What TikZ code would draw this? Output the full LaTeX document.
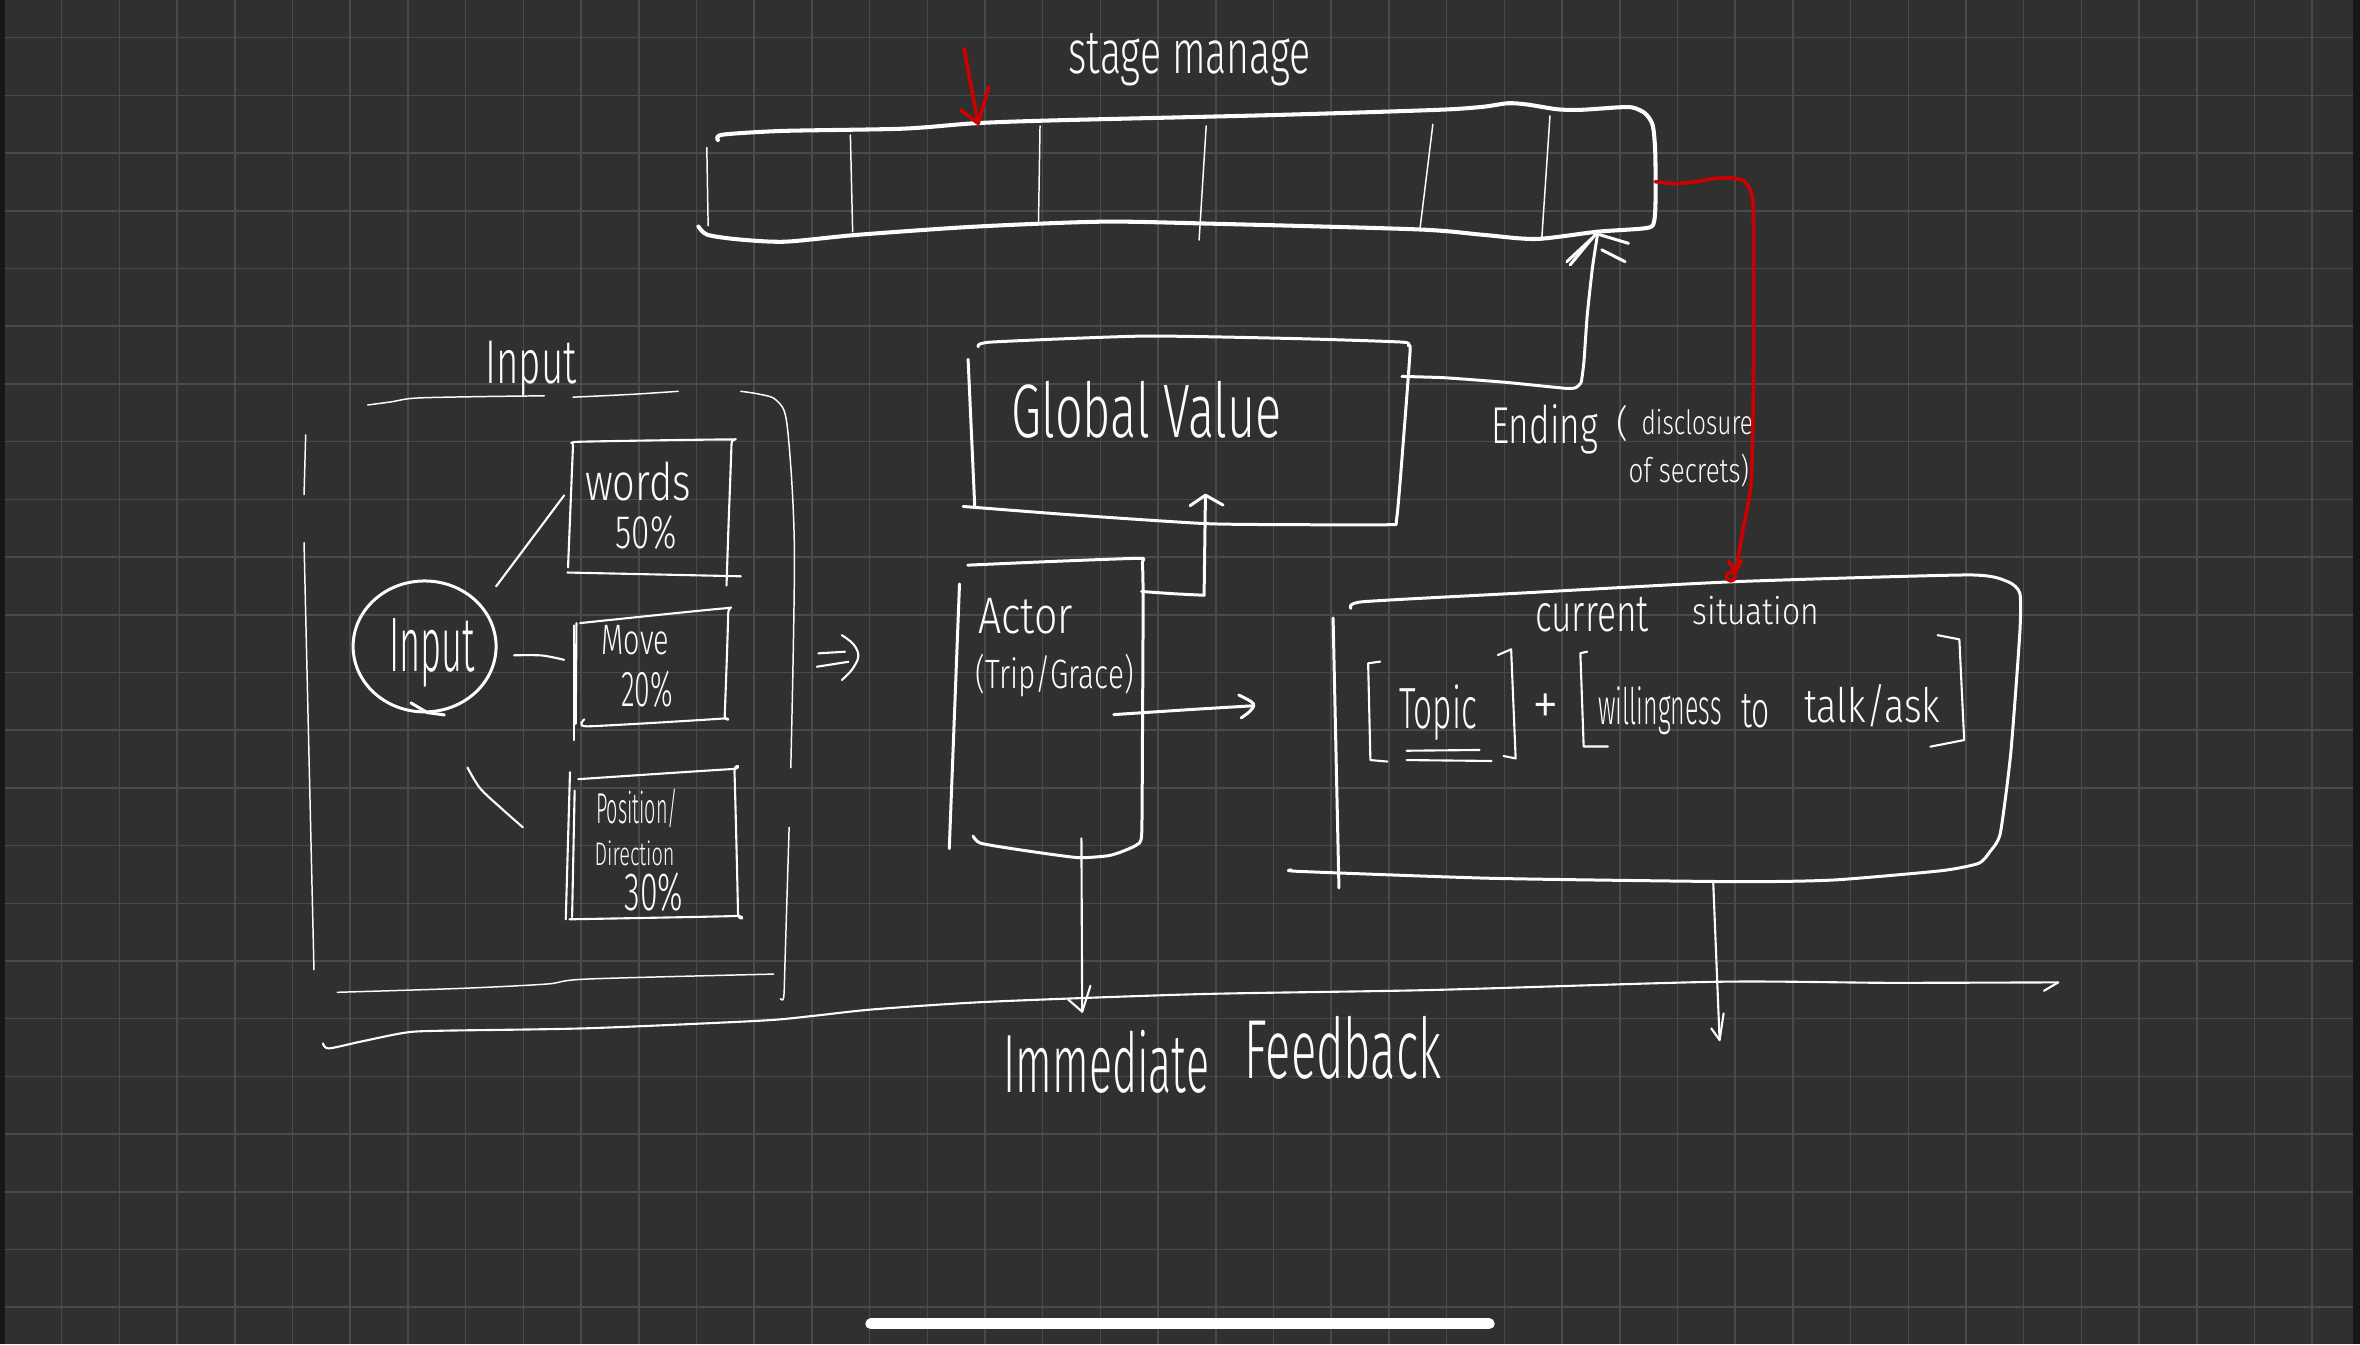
\documentclass[tikz,border=0pt]{standalone}
\usepackage{fontspec}
\setmainfont{Fira Sans}[UprightFont={* Light}]
\definecolor{board}{RGB}{48,48,48}
\definecolor{gridc}{RGB}{74,74,78}
\definecolor{rim}{RGB}{26,22,22}
\definecolor{inkc}{RGB}{252,252,252}
\definecolor{redc}{RGB}{206,0,0}
\newlength\myu
\setlength\myu{0.015cm}
% handwritten label squeezed into a w x h box (units of \myu)
\newcommand\hw[3]{\resizebox*{#1\myu}{#2\myu}{#3}}
\begin{document}
\begin{tikzpicture}[x=0.015cm, y=-0.015cm,
  inkline/.style={draw=inkc, line cap=round, line join=round},
  heavy/.style={inkline, line width=1.15pt},
  medium/.style={inkline, line width=0.85pt},
  fine/.style={inkline, line width=0.6pt},
  hair/.style={inkline, line width=0.42pt},
  redpen/.style={draw=redc, line width=1pt, line cap=round, line join=round},
  gridline/.style={draw=gridc, line width=0.43pt},
  hand/.style={inner sep=0pt, outer sep=0pt, text=inkc, anchor=north west}]

% board and grid
\useasboundingbox (0,0) rectangle (1568,893);
\fill[board] (0,0) rectangle (1568,893);
\foreach \k in {1,...,40} \draw[gridline] ({2.66+38.34*\k},0) -- ({2.66+38.34*\k},893);
\foreach \k in {0,...,22} \draw[gridline] (0,{25.05+38.34*\k}) -- (1568,{25.05+38.34*\k});
\fill[rim] (0,0) rectangle (3.3,893);
\fill[rim] (1563.5,0) rectangle (1568,893);
\draw[draw=white, line width=3pt, line cap=round] (578.5,879.5) -- (989.5,879.5);

% ---------- stage manager bar ----------
\node[hand] (stagelbl) at (710,22) {\hw{161}{35}{stage manage}};
\draw[heavy] plot[smooth, tension=0.45] coordinates {(464,150.5) (470,156) (490,159) (521.6,160.6) (570,156) (647.6,150.6) (731.5,147.3) (800,148.5) (941.3,152.4) (985,156) (1020.5,158.8) (1061,154) (1094,151.5) (1099,147) (1100,130) (1099.7,100) (1098,83) (1093,75.3) (1085,71.5) (1076,71.3) (1050,73) (1034.5,72.6) (1015,69.5) (1002,68.6) (985,71) (955,73) (848,76.4) (700,80) (647.6,81.9) (600,85.5) (520,87) (480,89.5) (477,93)};
\draw[hair] (469.6,98) -- (470.5,150);
\draw[hair] (565,89.7) -- (566.5,154);
\draw[hair] (691,83.7) -- (690,147);
\draw[hair] (801.4,83.7) -- (796.7,159.5);
\draw[hair] (952,82.6) -- (943.5,151.6);
\draw[hair] (1029.8,77) -- (1024.3,159.5);
\coordinate (stageTop) at (649.9,82);
\coordinate (stageRight) at (1099.7,120.7);
\coordinate (stageBottom) at (1061.5,155);

% red marker arrow into the bar
\coordinate (redStart) at (640.5,32.1);
\draw[redpen] (redStart) -- (stageTop);
\draw[redpen] (638.3,73.1) -- (stageTop) -- (657,57.6);

% ---------- input group ----------
\node[hand] (inputlbl) at (322.5,226.4) {\hw{60.5}{36.6}{Input}};
\draw[hair] plot[smooth, tension=0.5] coordinates {(244.2,269.1) (260,267) (276.2,264.5) (320,263.5) (361.7,263)};
\draw[hair] plot[smooth, tension=0.5] coordinates {(380.7,263.9) (420,262) (450.6,260)};
\draw[hair] plot[smooth, tension=0.5] coordinates {(492.2,260) (505,262) (515.9,266) (523,282.8) (527.8,365.2) (525.4,510.1)};
\draw[hair] plot[smooth, tension=0.5] coordinates {(524.3,549.7) (521.6,637.9) (520.7,662.6) (518.5,663.5)};
\draw[hair] (203.1,288.9) -- (202,328.6);
\draw[hair] (202,360.6) -- (208.6,644.3);
\draw[hair] plot[smooth, tension=0.5] coordinates {(224.1,659.3) (306.1,656.7) (363.3,653.8) (390,650.5) (514,647.2)};

% input bubble
\draw[medium] (282.1,429.5) ellipse [x radius=47.5, y radius=43.5];
\draw[medium] (273,467) -- (284,473.5) -- (295.2,475);
\node[hand] (inputbub) at (258.5,411) {\hw{57}{45.7}{Input}};
\coordinate (bubNE) at (329.6,389.6);
\coordinate (bubE) at (341.5,435.4);
\coordinate (bubSE) at (310.6,510);

% words box
\draw[fine] plot[smooth, tension=0.3] coordinates {(380.7,295) (385,293.5) (485,292) (486,295) (484,350) (482.7,389)};
\draw[fine] (377,380.4) -- (492.2,382.9);
\draw[fine] (380.7,296) -- (377.4,377);
\node[hand] (words) at (388.7,307) {\hw{70.3}{26}{words}};
\node[hand] (wordspct) at (409,342.5) {\hw{40.4}{22.7}{50\%}};
\coordinate (wordsL) at (374.8,329.2);

% move box
\draw[fine] plot[smooth, tension=0.3] coordinates {(385.4,414) (481.5,404.2) (483.8,407.8) (481.5,475) (480.3,477.4) (390.1,482.6) (388.2,478)};
\draw[fine] (381.1,415.5) -- (381.1,491.8);
\draw[fine] (383,414) -- (382.5,481);
\node[hand] (move) at (399.6,415.5) {\hw{45}{19.7}{Move}};
\node[hand] (movepct) at (412.6,446) {\hw{34.4}{24.4}{20\%}};
\coordinate (moveL) at (374.8,438.4);

% position box
\draw[fine] plot[smooth, tension=0.3] coordinates {(384.2,517.7) (486.3,511) (488,513.1) (490.3,606.2) (488.6,608.6) (378.3,610.8)};
\draw[fine] (378.7,513.1) -- (375.9,610.8);
\draw[fine] (381.8,525.3) -- (380.1,609.3);
\node[hand] (position) at (396,523.8) {\hw{54.5}{25.9}{Position/}};
\node[hand] (direction) at (395,558.8) {\hw{53.2}{16.6}{Direction}};
\node[hand] (pospct) at (415,580) {\hw{39}{26}{30\%}};
\coordinate (posL) at (347.4,549.7);

% bubble to its three parts
\draw[fine] (bubNE) -- (wordsL);
\draw[fine] plot[smooth, tension=0.5] coordinates {(bubE) (360,435.5) (moveL)};
\draw[fine] plot[smooth, tension=0.5] coordinates {(bubSE) (319,523.8) (333,537) (posL)};

% double arrow out of the input group
\draw[fine] (543.7,434.1) -- (561.5,433);
\draw[fine] (542.7,443) -- (563.7,439.7);
\draw[fine] plot[smooth, tension=0.6] coordinates {(559.3,422) (567,428) (570.3,436) (566,445) (559.3,451.8)};

% ---------- global value ----------
\draw[medium] plot[smooth, tension=0.35] coordinates {(650,230.4) (658.5,227.3) (760.1,223.3) (861.8,225) (931.4,227.3) (935.8,229.7) (936.9,232.8) (933.1,283.8) (928,344.3) (922.9,348.6) (861.8,348.6) (800.9,347.9) (709.4,341.9) (639.9,336.5)};
\draw[medium] (643.2,238.7) -- (647.6,336);
\node[hand] (global) at (672,253) {\hw{179.7}{38}{Global Value}};
\coordinate (gvR) at (931.4,250.1);
\coordinate (gvB) at (800.9,329);

% global value up to the stage bar
\draw[medium] plot[smooth, tension=0.3] coordinates {(gvR) (960,251) (1000,254) (1040,258) (1046.6,257.7) (1050.5,254) (1052.4,240) (1054.5,210) (1058,178) (stageBottom)};
\draw[medium] (1043.2,176) -- (1059.8,156);
\draw[medium] (1041,173.9) -- (1057.6,158.4);
\draw[medium] (1063,156) -- (1082,161.7);
\draw[medium] (1064.2,166) -- (1079.7,173.9);

% ending label
\node[hand] (ending) at (990.7,268.5) {\hw{71}{33}{Ending}};
\node[hand] (endparen) at (1074,269.6) {\hw{8}{24}{(}};
\node[hand] (disclosure) at (1090.7,271.8) {\hw{74}{17}{disclosure}};
\node[hand] (secrets) at (1082,302) {\hw{80}{22}{of secrets)}};

% ---------- actor ----------
\draw[medium] plot[smooth, tension=0.35] coordinates {(643,375.5) (700,373) (757,371) (759,374) (759.5,400) (759,500) (758.5,555) (755,561.5) (745,566) (736,568.6) (716,569.8) (680,565) (651.7,560.3) (646.5,555.5)};
\draw[medium] (637.5,388) -- (630.7,563.9);
\node[hand] (actor) at (650,397.7) {\hw{62.8}{23.8}{Actor}};
\node[hand] (actorsub) at (648.3,434.6) {\hw{105}{28.4}{(Trip/Grace)}};
\coordinate (actorR) at (758.5,393);
\coordinate (actorMid) at (740,474.8);
\coordinate (actorB) at (718.5,557);

% actor up into global value
\draw[medium] plot[smooth, tension=0.4] coordinates {(actorR) (780,394.5) (800,395.5)};
\draw[medium] (800,395.5) -- (gvB);
\draw[medium] (790.7,336) -- (gvB) -- (812.6,335.6);

% ---------- current situation ----------
\draw[medium] plot[smooth, tension=0.35] coordinates {(897.6,404.2) (905.6,399.8) (1015,393.8) (1152,386.5) (1308,382) (1334,386.5) (1342,394.2) (1342,420) (1336,500) (1329,553.7) (1322,566) (1314.7,573.6) (1290,578.5) (1218,584.7) (1153.5,585.8) (992.6,583.6) (863.8,579) (858,578)};
\draw[medium] (885.7,410.6) -- (889.6,590);
\node[hand] (current) at (1020,396.5) {\hw{75.6}{23.2}{current}};
\node[hand] (situation) at (1124.7,396.5) {\hw{83.8}{19}{situation}};
\coordinate (csTop) at (1153,380);
\coordinate (csL) at (833,468.9);
\coordinate (csB) at (1138.3,587);

% bracketed terms
\draw[fine] (917,439.6) -- (909,440.7) -- (910.5,505) -- (921.8,506);
\node[hand] (topic) at (929.6,455) {\hw{51.8}{37}{Topic}};
\draw[fine] (934.6,498.8) -- (983,498.3);
\draw[fine] (934.6,505) -- (991,505.6);
\draw[fine] (995.2,435.2) -- (1004,431.4) -- (1007,503.9) -- (999,502.3);
\node[hand] (plus) at (1018.4,460.7) {\hw{17.6}{21}{+}};
\draw[fine] (1054.5,433) -- (1050,434) -- (1052.2,496) -- (1068.3,496);
\node[hand] (willing) at (1062,456.3) {\hw{82}{32}{willingness}};
\node[hand] (towd) at (1157,461) {\hw{19}{22.5}{to}};
\node[hand] (talk) at (1198.7,455) {\hw{90.3}{28.5}{talk/ask}};
\draw[fine] (1287.3,422) -- (1301.8,424.8) -- (1305,491.7) -- (1282.5,496.1);

% actor across to current situation
\draw[medium] plot[smooth, tension=0.4] coordinates {(actorMid) (790,471.5) (csL)};
\draw[medium] plot[smooth, tension=0.6] coordinates {(823,461.8) (831,466) (csL) (830,473) (824.6,477)};

% red link from the stage bar into the current situation
\draw[redpen] plot[smooth, tension=0.4] coordinates {(stageRight) (1112,122) (1125,121) (1140,118.5) (1151,118.2) (1159,120.5) (1163.5,128) (1165,145) (1165,250) (1163.5,320) (1158,352) (1155,370) (csTop)};
\draw[redpen] (1148.5,373) -- (csTop) -- (1157,372.5);
\draw[redpen] (1150,383) circle [radius=3];

% ---------- immediate feedback ----------
\coordinate (fbEnd) at (1367.5,652.7);
\draw[fine] plot[smooth, tension=0.45] coordinates {(214.6,693.2) (218.4,696.6) (240,692) (270,686) (294.7,684.8) (390,683.2) (504.5,678.2) (540,675) (580.7,670.6) (657,665.6) (797.3,660.5) (950,657.8) (1140.6,652.3) (1255,653) (fbEnd)};
\draw[fine] (fbEnd) -- (1358,658.3);
\coordinate (actorDown) at (719,672.2);
\coordinate (csDown) at (1142.5,691);
\draw[fine] (actorB) -- (actorDown);
\draw[fine] (709.6,664) -- (actorDown) -- (724.5,655);
\draw[fine] (csB) -- (csDown);
\draw[fine] (1137,683.3) -- (csDown) -- (1145.2,673.3);
\node[hand] (immediate) at (666.8,684.4) {\hw{136.5}{42}{Immediate}};
\node[hand] (feedback) at (827,675.5) {\hw{130.5}{42}{Feedback}};
\end{tikzpicture}
\end{document}
